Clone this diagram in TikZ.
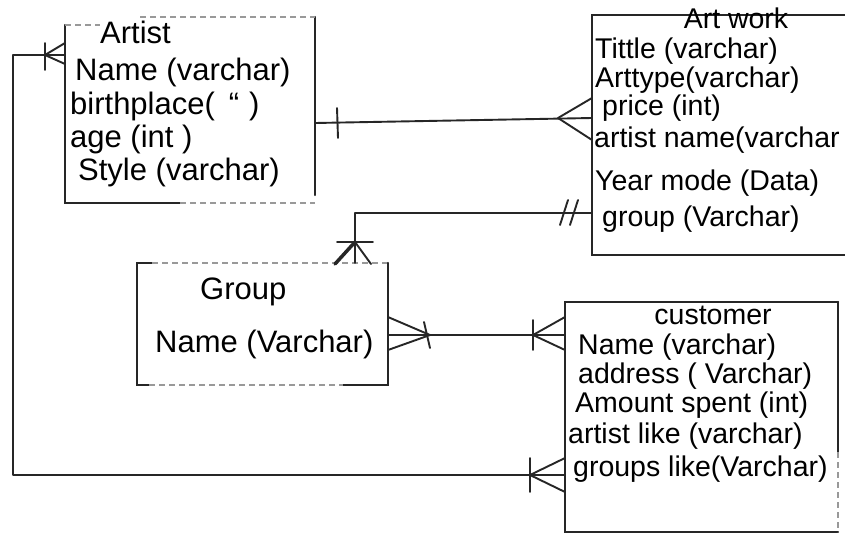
\documentclass[tikz,border=0pt]{standalone}
\usepackage{fontspec}
\setmainfont{Liberation Sans}
\begin{document}
\begin{tikzpicture}[x=1pt,y=-1pt,
  edge/.style={line width=2.2pt, black!85, line cap=round},
  faint/.style={line width=1.2pt, black!40, dash pattern=on 6pt off 4pt},
  conn/.style={line width=1.9pt, black!85, line cap=round, line join=round},
  box/.style={draw=none, inner sep=0pt, outer sep=0pt},
  txt/.style={inner sep=0pt, anchor=west, text height=21pt, text depth=6pt,
              font=\fontsize{31}{33}\selectfont},
  stxt/.style={txt, text height=20pt, text depth=5pt, font=\fontsize{28.5}{30}\selectfont},
]
\useasboundingbox[fill=white] (0,0) rectangle (845,536);

% ---- entity boxes ----
\node[box, minimum width=250pt, minimum height=178pt] (artist)   at (190,114)   {};
\node[box, minimum width=278pt, minimum height=240pt] (artwork)  at (731,135)   {};
\node[box, minimum width=251pt, minimum height=122pt] (group)    at (262.5,324) {};
\node[box, minimum width=273pt, minimum height=230pt] (customer) at (701.5,417) {};

% Artist edges
\draw[edge] (artist.north west) -- (artist.south west) -- ([xshift=115pt]artist.south west);
\draw[faint] ([xshift=115pt]artist.south west) -- (artist.south east);
\draw[edge] ([yshift=8pt]artist.north east) -- ([yshift=8pt]artist.south east);
\draw[faint] (artist.north west) -- ([xshift=35pt]artist.north west);
\draw[faint] ([xshift=75pt,yshift=8pt]artist.north west) -- ([yshift=8pt]artist.north east);

% Artwork edges
\draw[edge] (artwork.north east) -- (artwork.north west) -- (artwork.south west) -- (artwork.south east);

% Group edges
\draw[edge] ([xshift=12pt]group.south west) -- (group.south west) -- (group.north west) -- ([xshift=15pt]group.north west);
\draw[faint] ([xshift=15pt]group.north west) -- (group.north east);
\draw[edge] (group.north east) -- (group.south east) -- ([xshift=-45pt]group.south east);
\draw[faint] ([xshift=12pt]group.south west) -- ([xshift=-45pt]group.south east);

% Customer edges
\draw[edge] (customer.north east) -- (customer.north west) -- (customer.south west) -- (customer.south east);
\draw[edge] (customer.north east) -- ([yshift=-150pt]customer.north east);
\draw[faint] ([yshift=-150pt]customer.north east) -- (customer.south east);

% ---- texts ----
\node[txt] (artistT) at (100,36) {Artist};
\node[txt] (a1) at (75,73) {Name (varchar)};
\node[txt] (a2) at (70,107) {birthplace(\hspace{14pt}“\hspace{10pt})};
\node[txt] (a3) at (70,140) {age (int )};
\node[txt] (a4) at (78,173) {Style (varchar)};

\node[stxt, anchor=center] (wT) at (736,21) {Art work};
\node[stxt] (w1) at (595,51) {Tittle (varchar)};
\node[stxt] (w2) at (595,80) {Arttype(varchar)};
\node[stxt] (w3) at (602,108) {price (int)};
\node[stxt] (w4) at (594,140) {artist name(varchar};
\node[stxt] (w5) at (595,183) {Year mode (Data)};
\node[stxt] (w6) at (602,219) {group (Varchar)};

\node[txt] (gT) at (200,292) {Group};
\node[txt] (g1) at (155,345) {Name (Varchar)};

\node[stxt, anchor=center] (cT) at (713,317) {customer};
\node[stxt] (c1) at (578,347) {Name (varchar)};
\node[stxt] (c2) at (578,376) {address ( Varchar)};
\node[stxt] (c3) at (575,405) {Amount spent (int)};
\node[stxt] (c4) at (568,436) {artist like (varchar)};
\node[stxt] (c5) at (573,469) {groups like(Varchar)};

% ---- connectors ----
% Artist -- Artwork
\draw[conn] ([yshift=-9pt]artist.east) coordinate (p1) -- ([yshift=17pt]artwork.west) coordinate (q1);
\draw[conn] (p1) ++(22,-15) -- ++(1,30);
\draw[conn] (q1) ++(-34,0) coordinate (v1) (v1) -- ++(34,-20) (v1) -- ++(34,22);

% Artwork -- Group
\draw[conn] ([yshift=-78pt]artwork.west) coordinate (q2) -| ([xshift=92.5pt]group.north) coordinate (p2);
\draw[conn] (q2) ++(-32,12) -- ++(8,-25);
\draw[conn] (q2) ++(-22,12) -- ++(8,-25);
\draw[conn] (p2) ++(-18,-21) -- ++(36,0);
\draw[conn] (p2) ++(0,-21) coordinate (v2);
\draw[conn, line width=3.5pt] (v2) -- ++(-20,22);
\draw[conn] (v2) -- ++(16,22);

% Group -- Customer
\draw[conn] ([yshift=-11pt]group.east) coordinate (p3) -- ([yshift=82pt]customer.west) coordinate (q3);
\draw[conn] (p3) ++(42,0) coordinate (v3) (v3) -- ++(-42,-18) (v3) -- ++(-42,15);
\draw[conn] (p3) ++(36,-13) -- ++(6,26);
\draw[conn] (q3) ++(-32,-15) -- ++(0,30);
\draw[conn] (q3) ++(-32,0) coordinate (v4) (v4) -- ++(32,-18) (v4) -- ++(32,15);

% Customer -- Artist
\coordinate (lft) at (13,0);
\coordinate (p4) at ([yshift=59pt]artist.west);
\coordinate (q4) at ([yshift=-58pt]customer.west);
\draw[conn] (q4) -- (q4 -| lft) -- (lft |- p4) -- (p4);
\draw[conn] (p4) ++(-20,-12) -- ++(0,27);
\draw[conn] (p4) ++(-20,0) coordinate (v5) (v5) -- ++(20,-12) (v5) -- ++(20,9);
\draw[conn] (q4) ++(-35,-17) -- ++(0,34);
\draw[conn] (q4) ++(-35,0) coordinate (v6) (v6) -- ++(35,-17) (v6) -- ++(35,17);
\end{tikzpicture}
\end{document}
